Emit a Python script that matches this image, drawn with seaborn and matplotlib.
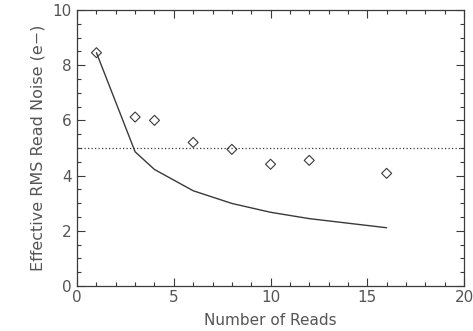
import numpy as np
import pandas as pd
import matplotlib
matplotlib.use("Agg")
import matplotlib.pyplot as plt
from matplotlib.ticker import MultipleLocator
import seaborn as sns

# data
n_reads = [1, 3, 4, 6, 8, 10, 12, 16]
measured_noise = [8.45, 6.12, 6.0, 5.2, 4.95, 4.41, 4.55, 4.08]
expected_noise = [8.45, 4.86, 4.22, 3.45, 2.99, 2.67, 2.44, 2.11]
noise_floor = 5.0

sns.set_style("ticks")
plt.rcParams['font.family'] = ['DejaVu Sans']

ink = "#3a3a3a"
text_col = "#555555"

fig = plt.figure(figsize=(4.73, 3.31), dpi=100)
ax = fig.add_axes([0.163, 0.136, 0.818, 0.834])

df = pd.DataFrame({"reads": n_reads, "measured": measured_noise, "expected": expected_noise})

sns.lineplot(data=df, x="reads", y="expected", ax=ax, color=ink, linewidth=1.0)
sns.scatterplot(data=df, x="reads", y="measured", ax=ax, marker="D", s=26,
                facecolor="none", edgecolor=ink, linewidth=0.8)
ax.axhline(noise_floor, color=ink, linestyle=(0, (1, 1.8)), linewidth=0.9)

ax.set_xlim(0, 20)
ax.set_ylim(0, 10)
ax.xaxis.set_major_locator(MultipleLocator(5))
ax.xaxis.set_minor_locator(MultipleLocator(1))
ax.yaxis.set_major_locator(MultipleLocator(2))
ax.yaxis.set_minor_locator(MultipleLocator(0.5))
ax.tick_params(which="both", direction="in", top=True, right=True,
               color=ink, width=0.8, labelcolor=text_col, labelsize=11)
ax.tick_params(which="major", length=6)
ax.tick_params(which="minor", length=3)
ax.tick_params(axis="x", pad=3)
ax.tick_params(axis="y", pad=4)
for s in ax.spines.values():
    s.set_color(ink)
    s.set_linewidth(0.9)

ax.set_xlabel("Number of Reads", fontsize=11, color=text_col, labelpad=6)
ax.set_ylabel("Effective RMS Read Noise (e\u2212)", fontsize=11.5, color=text_col, labelpad=5)

fig.savefig("out.png", dpi=100)
